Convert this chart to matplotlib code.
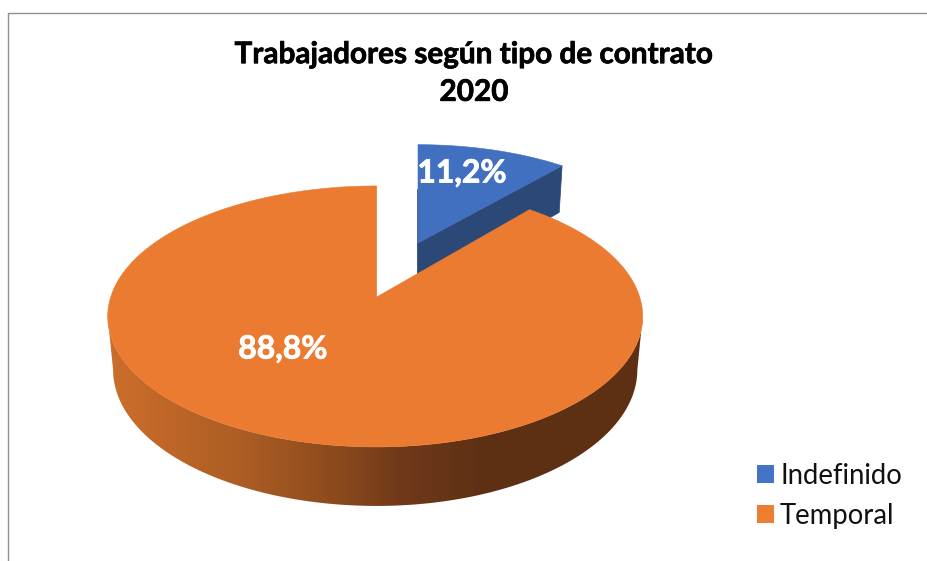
"""3D exploded pie: trabajadores segun tipo de contrato, 2020."""

import matplotlib
matplotlib.use("Agg")
import matplotlib.patheffects as pe
import matplotlib.pyplot as plt
import numpy as np
from matplotlib.colors import LinearSegmentedColormap
from matplotlib.patches import Patch, Polygon

plt.rcParams["font.family"] = ["Lato", "DejaVu Sans"]

TITLE = "Trabajadores según tipo de contrato\n2020"
CATEGORIES = ["Indefinido", "Temporal"]
VALUES = [11.2, 88.8]
LABELS = ["11,2%", "88,8%"]
LEGEND_COLORS = ["#4472c4", "#ed7d31"]
TOP_COLORS = ["#4270c0", "#ea7b30"]
BLUE_SIDE = "#2c4877"
SIDE_STOPS = [(0.0, "#cc6e2b"), (0.26, "#ab5c24"), (0.43, "#8a4a1c"), (0.55, "#70391a"),
              (0.70, "#5e3013"), (1.0, "#5e3013")]

# camera model of the pie, in pixels
APEX_X, APEX_Y = 376.7, 297.0
A_LEFT, A_RIGHT = 266.0, 263.0
K, P = 127.6, 0.149
BASE_Y, BASE_SX, BASE_SY = 349.4, 0.98, 1.044
EXPLODE_V = 0.452
BLUE_X = 418.0


def project(theta, shift_v=0.0, x0=APEX_X, base=False):
    """Angle (clockwise from 12 o'clock, radians) to picture coordinates."""
    u = np.sin(theta)
    v = np.cos(theta) + shift_v
    den = 1 + P * v
    a = np.where(u > 0, A_RIGHT, A_LEFT)
    if base:
        return x0 + BASE_SX * a * u / den, BASE_Y - BASE_SY * K * v / den
    return x0 + a * u / den, APEX_Y - K * v / den


def rim(start, stop, **kw):
    t = np.linspace(start, stop, 240)
    return np.column_stack(project(t, **kw))


def point(theta, **kw):
    return np.column_stack(project(np.array([theta]), **kw))


def main():
    fig = plt.figure(figsize=(9.28, 5.61), dpi=100)
    ax = fig.add_axes([0, 0, 1, 1])

    # outer chart frame, cut off at the right and bottom of the picture
    ax.plot([8.5, 8.5, 928], [561, 12.5, 12.5], color="#8f8f8f", lw=1.0, zorder=1)

    blue_angle = 2 * np.pi * VALUES[0] / sum(VALUES)
    shift = dict(shift_v=EXPLODE_V, x0=BLUE_X)

    # blue slice, pulled out towards the back
    apex_top = np.array([[BLUE_X, APEX_Y - K * EXPLODE_V / (1 + P * EXPLODE_V)]])
    apex_low = np.array([[BLUE_X, BASE_Y - BASE_SY * K * EXPLODE_V / (1 + P * EXPLODE_V)]])
    face = np.vstack([apex_top, point(blue_angle, **shift),
                      point(blue_angle, base=True, **shift), apex_low])
    ax.add_patch(Polygon(face, closed=True, fc=BLUE_SIDE, ec=BLUE_SIDE, lw=0.5, zorder=2))
    back_low = point(0.0, base=True, **shift)
    ax.plot([BLUE_X - 0.4, BLUE_X - 0.4], [back_low[0, 1], apex_low[0, 1]],
            color=BLUE_SIDE, lw=1.2, zorder=2)
    blue_top = np.vstack([apex_top, rim(0, blue_angle, **shift)])
    ax.add_patch(Polygon(blue_top, closed=True, fc=TOP_COLORS[0], ec=TOP_COLORS[0], lw=0.4, zorder=3))

    # orange side wall with its horizontal shading, between the two silhouette points
    side_r = np.arccos(-P)
    side_l = 2 * np.pi - side_r
    wall = np.vstack([rim(side_r, side_l), rim(side_l, side_r, base=True)])
    wall_patch = Polygon(wall, closed=True, fc="none", ec="none", transform=ax.transData)
    ax.add_patch(wall_patch)
    cmap = LinearSegmentedColormap.from_list("side", SIDE_STOPS)
    img = ax.imshow(np.linspace(0, 1, 512)[None, :], cmap=cmap, aspect="auto", zorder=4,
                    extent=(wall[:, 0].min(), wall[:, 0].max(), wall[:, 1].max(), wall[:, 1].min()),
                    interpolation="bilinear")
    img.set_clip_path(wall_patch)

    # orange top
    orange_top = np.vstack([[[APEX_X, APEX_Y]], rim(blue_angle, 2 * np.pi)])
    ax.add_patch(Polygon(orange_top, closed=True, fc=TOP_COLORS[1], ec=TOP_COLORS[1], lw=0.4, zorder=5))

    # data labels, slightly thickened to match the heavier bold of the original
    white_stroke = [pe.withStroke(linewidth=0.6, foreground="white")]
    ax.text(462, 173, LABELS[0], color="white", fontsize=23, fontweight="bold",
            ha="center", va="center", zorder=6, path_effects=white_stroke)
    ax.text(283, 349, LABELS[1], color="white", fontsize=23, fontweight="bold",
            ha="center", va="center", zorder=6, path_effects=white_stroke)

    ax.text(474, 73, TITLE, color="black", fontsize=21.4, fontweight="bold",
            ha="center", va="center", linespacing=1.42, zorder=6,
            path_effects=[pe.withStroke(linewidth=0.5, foreground="black")])

    handles = [Patch(fc=c, ec="none", label=n) for c, n in zip(LEGEND_COLORS, CATEGORIES)]
    ax.legend(handles=handles, loc="upper left", bbox_to_anchor=(757, 463),
              bbox_transform=ax.transData, frameon=False, fontsize=19.8, borderpad=0,
              borderaxespad=0, handlelength=0.62, handleheight=0.62, handletextpad=0.22,
              labelspacing=0.5, labelcolor="#111111")

    ax.set_xlim(0, 928)
    ax.set_ylim(561, 0)
    ax.axis("off")

    fig.savefig("out.png", dpi=100, facecolor="white")
    plt.close(fig)


if __name__ == "__main__":
    main()
